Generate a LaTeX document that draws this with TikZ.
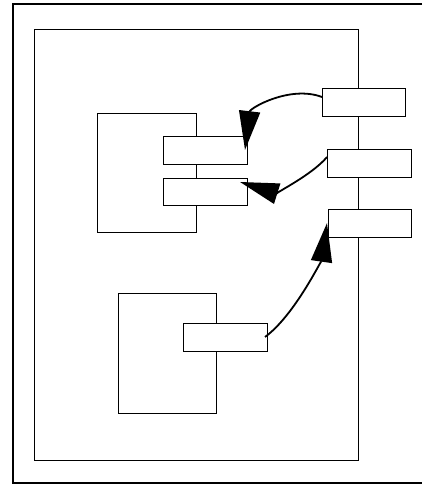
\documentclass[tikz,border=0pt]{standalone}
\usetikzlibrary{arrows.meta}
\begin{document}
\begin{tikzpicture}[x=1pt,y=-1pt,
  box/.style={draw=black, fill=white, line width=0.9pt, inner sep=0pt, outer sep=0pt},
  frame/.style={draw=black, line width=0.9pt, inner sep=0pt, outer sep=0pt},
  conn/.style={draw=black, line width=1.8pt, -{Triangle[length=39pt,width=21pt]}}]
\useasboundingbox (0,0) rectangle (422,486);
\fill[white] (0,0) rectangle (422,486);
% outer frame (right side lies beyond the picture)
\draw[line width=2pt] (422,4) -- (13,4) -- (13,483) -- (422,483);
% inner frame
\node[frame, minimum width=324pt, minimum height=431pt] (inner) at (196,244.5) {};
% left components
\node[frame, minimum width=99pt, minimum height=119pt] (L1) at (146.5,172.5) {};
\node[frame, minimum width=98pt, minimum height=120pt] (L2) at (167,353) {};
% port boxes
\node[box, minimum width=84pt, minimum height=28pt] (A) at (205,150) {};
\node[box, minimum width=84pt, minimum height=27pt] (B) at (205,191.5) {};
\node[box, minimum width=84pt, minimum height=28pt] (C) at (225,337) {};
\node[box, minimum width=83pt, minimum height=28pt] (R1) at (363.5,102) {};
\node[box, minimum width=84pt, minimum height=28pt] (R2) at (369,163) {};
\node[box, minimum width=83pt, minimum height=28pt] (R3) at (369.5,223) {};
% connector end points
\coordinate (s1) at ([yshift=5pt]R1.west);
\coordinate (t1) at ([xshift=-2pt]A.east);
\coordinate (s2) at ([yshift=6pt]R2.west);
\coordinate (t2) at ([xshift=-7pt,yshift=-4pt]B.north east);
\coordinate (s3) at ([xshift=-2pt]C.east);
\coordinate (t3) at ([xshift=-1pt]R3.west);
% connectors
\draw[conn] (s1) .. controls (290,85) and (250,108) .. (t1);
\draw[conn] (s2) .. controls (312,175) and (275,193) .. (t2);
\draw[conn] (s3) .. controls (295,315) and (322,258) .. (t3);
\end{tikzpicture}
\end{document}
